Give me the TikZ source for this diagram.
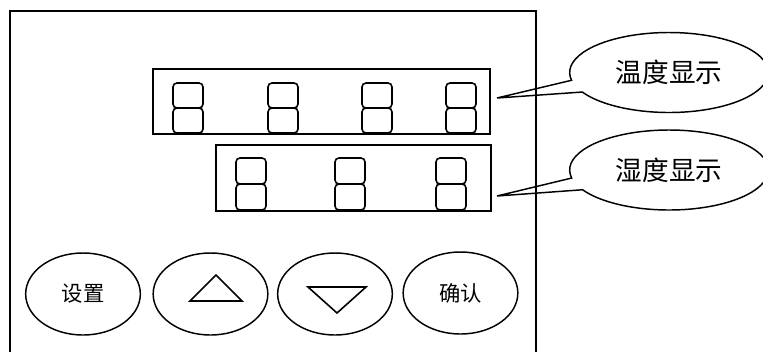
\documentclass[tikz,border=0pt]{standalone}
\usepackage{fontspec}
\newfontfamily\cjk{Noto Sans CJK SC}
\usetikzlibrary{shapes.geometric,shapes.callouts}

\begin{document}
\begin{tikzpicture}[x=0.75pt,y=-0.75pt,
  every node/.style={font=\cjk},
  panel/.style={draw,line width=1.6pt},
  seg/.style={line width=1.2pt,rounded corners=3pt},
  btn/.style={draw,ellipse,line width=1.1pt,inner sep=0pt,minimum width=86pt,minimum height=61.5pt,font=\cjk\fontsize{16}{16}\selectfont},
  note/.style={draw,ellipse callout,line width=1.1pt,inner sep=0pt,minimum width=149pt,minimum height=60pt,callout pointer arc=18,font=\cjk\fontsize{20}{20}\selectfont}
]
\useasboundingbox (0,0) rectangle (763,351);
% panel
\draw[panel] (10,360) -- (10,11) -- (536,11) -- (536,360);
\node[panel,inner sep=0pt,minimum width=252.75pt,minimum height=48.75pt] (temp) at (321.5,101.5) {};
\node[panel,inner sep=0pt,minimum width=206.25pt,minimum height=49.5pt] (hum) at (353.5,178) {};

% seven segment digits
\foreach \x in {173,268,362,446}
  \draw[seg] (\x,83) rectangle ++(30,25) (\x,108) rectangle ++(30,25);
\foreach \x in {236,335,436}
  \draw[seg] (\x,158) rectangle ++(30,26) (\x,184) rectangle ++(30,26);

% callouts
\coordinate (t1) at (497,98);
\coordinate (t2) at (497,196);
\node[note,callout absolute pointer={(t1)}] (tlabel) at (669,72.5) {温度显示};
\node[note,callout absolute pointer={(t2)}] (hlabel) at (669,170) {湿度显示};

% keys
\node[btn] (set) at (83,294) {设置};
\node[btn] (up) at (210.5,294) {};
\node[btn] (down) at (335,294) {};
\node[btn] (ok) at (460.5,293) {确认};
\draw[line width=1.2pt] (190,301) -- (216,275) -- (242,301) -- cycle;
\draw[line width=1.2pt] (308,287) -- (366,287) -- (337,313) -- cycle;
\end{tikzpicture}
\end{document}
